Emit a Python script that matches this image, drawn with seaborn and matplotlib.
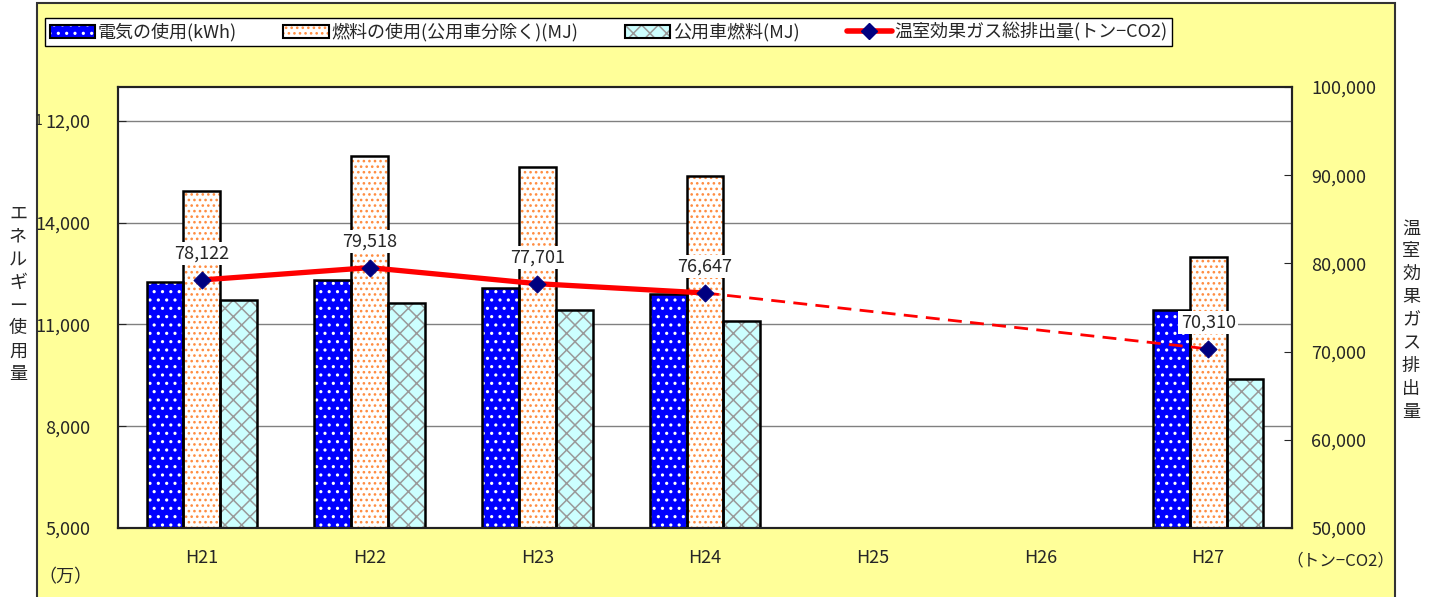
import numpy as np
import pandas as pd
import matplotlib.pyplot as plt
import matplotlib.patches as mpatches
from matplotlib.lines import Line2D
import seaborn as sns

# data
years = ["H21", "H22", "H23", "H24", "H25", "H26", "H27"]
electricity = [12265, 12324, 12088, 11912, np.nan, np.nan, 11412]
fuel = [14941, 15971, 15647, 15382, np.nan, np.nan, 13000]
vehicle_fuel = [11735, 11618, 11412, 11088, np.nan, np.nan, 9382]
co2 = [78122, 79518, 77701, 76647, np.nan, np.nan, 70310]

series_names = ["電気の使用(kWh)", "燃料の使用(公用車分除く)(MJ)", "公用車燃料(MJ)"]
co2_name = "温室効果ガス総排出量(トン−CO2)"

sns.set_style("white")
plt.rcParams["font.family"] = ["Noto Sans CJK JP", "DejaVu Sans"]
plt.rcParams["hatch.linewidth"] = 1.1

df = pd.DataFrame({"year": years,
                   series_names[0]: electricity,
                   series_names[1]: fuel,
                   series_names[2]: vehicle_fuel})
long_df = df.melt(id_vars="year", var_name="series", value_name="value").dropna()

face_colors = ["#0000FF", "#FFFFFF", "#CCFFFF"]
hatch_colors = ["#FFFFFF", "#FF8C40", "#999999"]
hatches = ["..", "...", "xx"]

fig = plt.figure(figsize=(14.33, 5.97), dpi=100)
fig.patch.set_facecolor("white")

# yellow chart area
fig.patches.append(mpatches.Rectangle((37 / 1433, -0.02), (1395 - 37) / 1433, 1.02 - 3 / 597,
                                      transform=fig.transFigure, facecolor="#FFFF99",
                                      edgecolor="#333333", linewidth=1.5, zorder=-5))

ax = fig.add_axes([118 / 1433, 69 / 597, 1174 / 1433, 441 / 597])
ax.set_facecolor("white")

sns.barplot(data=long_df, x="year", y="value", hue="series", order=years,
            hue_order=series_names, width=0.66, palette=face_colors,
            legend=False, ax=ax, saturation=1)

for container, fc, hc, h in zip(ax.containers, face_colors, hatch_colors, hatches):
    for bar in container:
        bar.set_facecolor(fc)
        bar.set_edgecolor(hc)
        bar.set_hatch(h)
        bar.set_linewidth(0)
        ax.add_patch(mpatches.Rectangle(bar.get_xy(), bar.get_width(), bar.get_height(),
                                        fill=False, edgecolor="black", linewidth=1.8, zorder=3))

ax.set_xlim(-0.5, len(years) - 0.5)
ax.set_ylim(5000, 18000)
ax.set_yticks([5000, 8000, 11000, 14000, 17000])
ax.set_yticklabels(["5,000", "8,000", "11,000", "14,000", "12,00"])
ax.text(-0.0645, 17000, "1", transform=ax.get_yaxis_transform(), fontsize=10,
        ha="right", va="center")
ax.yaxis.grid(True, color="#808080", linewidth=1)
ax.set_axisbelow(True)
ax.set_xlabel("")
ax.set_ylabel("")
ax.tick_params(axis="x", length=0, pad=15, labelsize=13)
ax.set_xticks(np.arange(-0.5, len(years)), minor=True)
ax.tick_params(axis="x", which="minor", direction="in", length=5, color="black")
ax.tick_params(axis="y", direction="in", length=6, pad=20, labelsize=13, left=True)
for s in ax.spines.values():
    s.set_color("#222222")
    s.set_linewidth(1.5)

# greenhouse gas line on the right axis
ax2 = ax.twinx()
x_idx = np.arange(len(years))
valid = [i for i, v in enumerate(co2) if not np.isnan(v)]
solid = valid[:-1]
dashed = valid[-2:]
sns.lineplot(x=x_idx[solid], y=np.array(co2)[solid], color="#FF0000", linewidth=3.8, ax=ax2)
sns.lineplot(x=x_idx[dashed], y=np.array(co2)[dashed], color="#FF0000", linewidth=2,
             linestyle=(0, (5, 3)), ax=ax2)
sns.scatterplot(x=x_idx[valid], y=np.array(co2)[valid], marker="D", color="#000080",
                s=75, edgecolor="#000080", zorder=5, ax=ax2)
for i in valid:
    ax2.annotate(f"{int(co2[i]):,}", (x_idx[i], co2[i]), xytext=(0, 19),
                 textcoords="offset points", ha="center", va="center", fontsize=13,
                 bbox=dict(facecolor="white", edgecolor="none", pad=2))
ax2.set_ylim(50000, 100000)
ax2.set_yticks(np.arange(50000, 100001, 10000))
ax2.set_yticklabels([f"{v:,}" for v in range(50000, 100001, 10000)])
ax2.tick_params(axis="y", direction="in", length=6, pad=14, labelsize=13)
ax2.set_ylabel("")
for s in ax2.spines.values():
    s.set_color("#222222")
    s.set_linewidth(1.5)

# axis titles (vertical stacked)
fig.text(18 / 1433, 1 - 294 / 597, "\n".join("エネルギー使用量"), ha="center", va="center",
         fontsize=13, linespacing=1.35)
fig.text(1411 / 1433, 1 - 320 / 597, "\n".join("温室効果ガス排出量"), ha="center", va="center",
         fontsize=13, linespacing=1.35)
fig.text(65 / 1433, 1 - 577 / 597, "（万）", ha="center", va="center", fontsize=13)
fig.text(1340 / 1433, 1 - 561 / 597, "（トン−CO2）", ha="center", va="center", fontsize=12)

# legend
handles = []
for fc, hc, h in zip(face_colors, hatch_colors, hatches):
    handles.append((mpatches.Patch(facecolor=fc, edgecolor=hc, hatch=h, linewidth=0),
                    mpatches.Patch(fill=False, edgecolor="black", linewidth=1.5)))
handles.append((Line2D([], [], color="#FF0000", linewidth=4),
                Line2D([], [], marker="D", color="#000080", linestyle="none", markersize=8)))
leg = fig.legend(handles, series_names + [co2_name], loc="upper left",
                 bbox_to_anchor=(45 / 1433, 1 - 18 / 597), ncol=4, frameon=True,
                 fancybox=False, edgecolor="black", framealpha=1, fontsize=13,
                 handlelength=2.5, handleheight=0.75, handletextpad=0.15,
                 columnspacing=2.6, borderaxespad=0, borderpad=0.25)
leg.get_frame().set_linewidth(1)

fig.savefig("out.png", dpi=100)
